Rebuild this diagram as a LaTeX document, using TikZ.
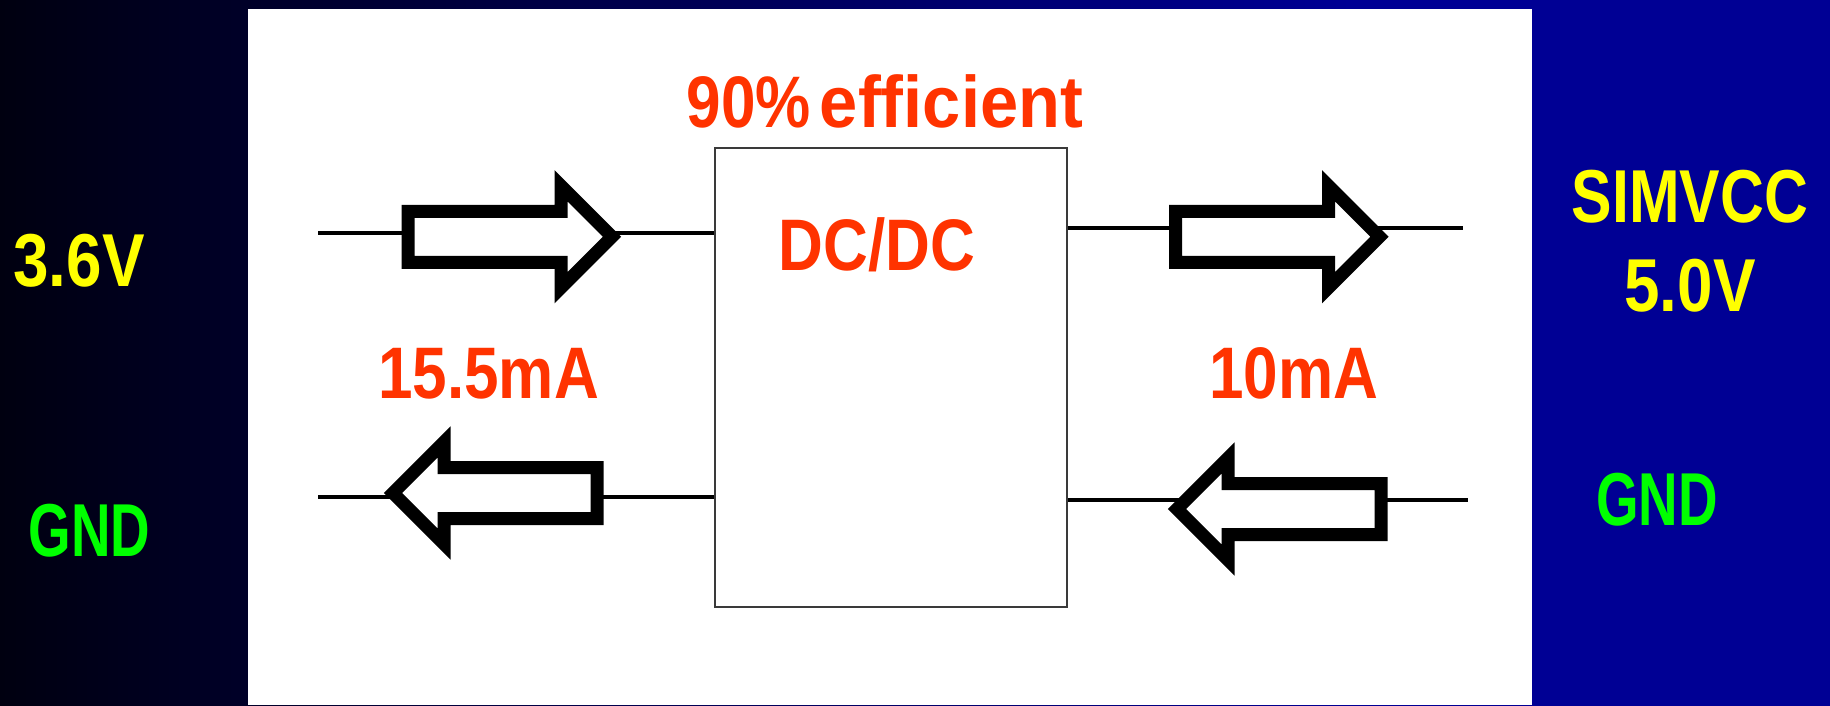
\documentclass[tikz,border=0pt]{standalone}
\usepackage{fontspec}
\setmainfont{Liberation Sans}
\newfontfamily\condfont{Liberation Sans}[FakeStretch=0.85]
\newfontfamily\efffont{Liberation Sans}[FakeStretch=0.94]
\newfontfamily\railfont{Liberation Sans}[FakeStretch=0.85]
\newfontfamily\simfont{Liberation Sans}[FakeStretch=0.81]
\newfontfamily\gndfont{Liberation Sans}[FakeStretch=0.73]
\definecolor{bgA}{RGB}{0,0,16}
\definecolor{bgB}{RGB}{0,0,148}
\definecolor{lblred}{RGB}{255,51,0}
\definecolor{lblyellow}{RGB}{255,255,0}
\definecolor{lblgreen}{RGB}{0,255,0}
\definecolor{boxgray}{RGB}{58,58,58}
\pgfdeclarehorizontalshading{bgshade}{100bp}{color(0bp)=(bgA); color(25bp)=(bgA); color(61.9bp)=(bgB); color(100bp)=(bgB)}
\tikzset{
  rail/.style={font=\bfseries\fontsize{75}{80}\selectfont, inner sep=0pt, anchor=base},
  redlbl/.style={font=\condfont\bfseries\fontsize{73}{80}\selectfont, text=lblred, inner sep=0pt, anchor=base},
  wire/.style={line width=4pt, black},
  fat/.style={line width=13pt, draw=black, fill=white, line join=miter},
  fatarrow/.pic={\path[fat] (0,-25.5) -- (153,-25.5) -- (153,-51) -- (204,0) -- (153,51) -- (153,25.5) -- (0,25.5) -- cycle;}
}
\begin{document}
\begin{tikzpicture}[x=1pt,y=-1pt]
\useasboundingbox (0,0) rectangle (1830,705);
\shade[shading=bgshade] (0,0) rectangle (1830,705);
\fill[white] (248,9) rectangle (1532,705);

\node[draw=boxgray, line width=2pt, minimum width=352pt, minimum height=459pt, inner sep=0pt] (dcdc) at (891,377.5) {};

\coordinate (inV) at (318,233);
\coordinate (inG) at (318,497);
\coordinate (outV) at (1463,228);
\coordinate (outG) at (1468,500);
\draw[wire] (inV) -- (inV -| dcdc.west);
\draw[wire] (inG) -- (inG -| dcdc.west);
\draw[wire] (outV -| dcdc.east) -- (outV);
\draw[wire] (outG -| dcdc.east) -- (outG);

\pic at (408,236.75) {fatarrow};
\pic at (1175.5,236.75) {fatarrow};
\pic[xscale=-1] at (597,493) {fatarrow};
\pic[xscale=-1] at (1381,509) {fatarrow};

\node[rail, text=lblyellow] (vin) at (79,286) {\railfont 3.6V};
\node[rail, text=lblgreen] (gndin) at (89.5,556) {\gndfont GND};
\node[rail, text=lblyellow] (simvcc) at (1690,222) {\simfont SIMVCC};
\node[rail, text=lblyellow] (vout) at (1690,311) {\railfont 5.0V};
\node[rail, text=lblgreen] (gndout) at (1657,525) {\gndfont GND};

\node[redlbl] (eff) at (885,127) {90\%\hspace{0.12em}{\efffont efficient}};
\node[redlbl] (dclbl) at (877,270) {DC/DC};
\node[redlbl] (iin) at (488.5,398) {15.5mA};
\node[redlbl] (iout) at (1293.5,398) {10mA};
\end{tikzpicture}
\end{document}
